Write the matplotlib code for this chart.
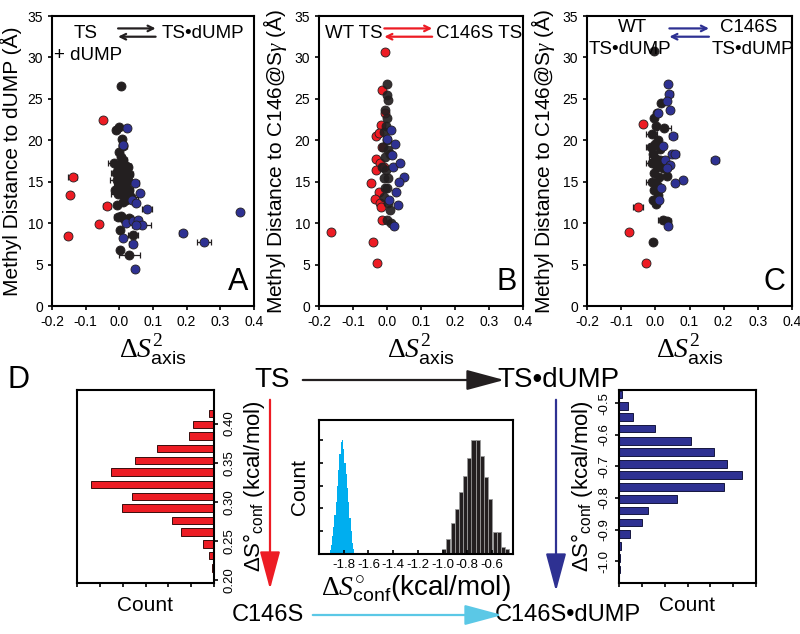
import matplotlib
matplotlib.use('Agg')
import matplotlib.pyplot as plt

plt.rcParams['font.family'] = ['Liberation Sans', 'DejaVu Sans']
plt.rcParams['mathtext.fontset'] = 'custom'
plt.rcParams['mathtext.rm'] = 'Liberation Serif'
plt.rcParams['mathtext.it'] = 'Liberation Serif:italic'
plt.rcParams['mathtext.sf'] = 'Liberation Sans'

RED = '#ed1c24'
BLUE = '#2e3192'
BLACK = '#231f20'
CYAN = '#00aeef'

# ---------------- panel A: TS + dUMP <-> TS*dUMP ----------------
a_red_x = [-0.049, -0.139, -0.146, -0.037, -0.060, -0.153]
a_red_y = [22.5, 15.6, 13.4, 12.1, 9.9, 8.5]
a_red_err = [0.0, 0.012, 0.0, 0.012, 0.004, 0.008]

a_blk_x = [0.005, -0.010, 0.000, 0.008, 0.010, -0.002, 0.005, 0.012, -0.015, 0.000,
           0.020, -0.005, 0.015, 0.025, -0.010, 0.005, 0.030, 0.010, -0.008, 0.015,
           0.025, 0.000, 0.020, -0.012, 0.010, 0.030, -0.005, 0.015, -0.007, 0.010,
           -0.005, 0.005, 0.015, 0.030, 0.003, 0.040, 0.003, 0.030, 0.020, 0.035, 0.012]
a_blk_y = [26.5, 21.2, 21.6, 20.2, 19.3, 18.6, 18.0, 17.6, 17.2, 17.0,
           16.9, 16.5, 16.3, 16.8, 16.0, 15.8, 15.9, 15.5, 15.2, 15.0,
           15.2, 14.6, 14.5, 14.0, 13.9, 14.0, 13.5, 13.3, 12.2, 12.6,
           10.8, 10.9, 10.5, 10.6, 9.2, 8.6, 6.8, 6.2, 12.8, 13.2, 15.2]
a_blk_err = [0.0, 0.008, 0.0, 0.005, 0.012, 0.0, 0.0, 0.01, 0.02, 0.0,
             0.015, 0.0, 0.01, 0.01, 0.015, 0.0, 0.01, 0.0, 0.02, 0.0,
             0.01, 0.015, 0.0, 0.0, 0.01, 0.01, 0.02, 0.0, 0.0, 0.0,
             0.01, 0.0, 0.0, 0.01, 0.0, 0.015, 0.0, 0.03, 0.0, 0.02, 0.0]

a_blue_x = [0.022, 0.010, 0.048, 0.060, 0.037, 0.050, 0.083, 0.358, 0.020,
            0.040, 0.054, 0.067, 0.050, 0.188, 0.252, 0.010, 0.040, 0.048]
a_blue_y = [21.5, 19.4, 14.9, 13.6, 12.8, 12.4, 11.7, 11.3, 10.0,
            10.2, 10.4, 9.8, 9.8, 8.8, 7.7, 8.2, 7.5, 4.5]
a_blue_err = [0.0, 0.01, 0.01, 0.0, 0.0, 0.0, 0.015, 0.0, 0.0,
              0.02, 0.01, 0.028, 0.0, 0.01, 0.02, 0.0, 0.01, 0.0]

# ---------------- panel B: WT TS <-> C146S TS ----------------
b_red_x = [-0.005, -0.014, -0.007, -0.019, -0.031, -0.024, -0.014, -0.033, -0.022, -0.031,
           -0.046, -0.024, -0.036, -0.022, -0.017, -0.014, -0.164, -0.041, -0.028, -0.010]
b_red_y = [30.7, 26.1, 23.3, 21.9, 20.5, 20.9, 19.2, 17.8, 17.2, 16.4,
           14.9, 13.7, 12.9, 12.4, 11.9, 10.4, 8.9, 7.7, 5.2, 16.8]

b_blk_x = [0.000, 0.000, 0.003, -0.007, 0.000, -0.004, -0.010, 0.001, -0.012, 0.003,
           -0.007, 0.010, -0.014, -0.002, -0.010, 0.003, -0.007, 0.001, -0.010, 0.003,
           0.008, 0.000, 0.012]
b_blk_y = [26.8, 25.5, 24.9, 23.7, 22.7, 21.7, 21.0, 20.0, 19.2, 18.8,
           18.0, 18.4, 16.8, 16.4, 15.4, 15.4, 14.2, 14.2, 13.2, 12.4,
           11.6, 10.4, 10.0]

b_blue_x = [0.013, 0.023, 0.001, 0.018, 0.039, 0.050, 0.035, 0.025, 0.032, 0.006, 0.021, 0.016]
b_blue_y = [21.3, 19.6, 20.1, 16.8, 17.2, 15.6, 15.0, 13.8, 12.2, 12.8, 9.7, 18.2]

# ---------------- panel C: WT TS*dUMP <-> C146S TS*dUMP ----------------
c_red_x = [-0.036, -0.050, -0.078, -0.026]
c_red_y = [22.0, 12.0, 8.9, 5.2]
c_red_err = [0.0, 0.015, 0.0, 0.0]

c_blk_x = [-0.003, -0.006, 0.023, 0.033, 0.018, 0.004, -0.004, 0.002, 0.025, -0.011,
           0.008, -0.001, -0.014, 0.013, -0.006, 0.002, 0.015, -0.011, 0.004, 0.023,
           -0.004, 0.011, 0.033, -0.011, 0.004, -0.004, 0.008, -0.008, 0.008, 0.002]
c_blk_y = [30.8, 7.7, 10.4, 10.2, 24.5, 23.3, 22.7, 21.7, 21.5, 20.8,
           20.0, 19.6, 19.2, 19.0, 18.4, 17.8, 17.6, 17.2, 16.8, 16.6,
           16.0, 15.6, 15.7, 15.0, 14.6, 14.0, 13.4, 12.8, 12.8, 12.3]
c_blk_err = [0.0, 0.0, 0.015, 0.012, 0.0, 0.0, 0.0, 0.0, 0.02, 0.015,
             0.0, 0.0, 0.012, 0.0, 0.01, 0.02, 0.0, 0.015, 0.0, 0.0,
             0.0, 0.0, 0.0, 0.015, 0.0, 0.01, 0.0, 0.0, 0.0, 0.0]

c_blue_x = [0.038, 0.041, 0.033, 0.043, 0.008, 0.052, 0.048, 0.059, 0.028, 0.043,
            0.033, 0.175, 0.080, 0.057, 0.018, 0.011, 0.038, 0.021]
c_blue_y = [26.8, 25.6, 24.7, 23.7, 23.3, 20.5, 18.4, 18.4, 17.6, 17.0,
            16.6, 17.6, 15.2, 14.9, 14.2, 12.8, 9.7, 19.3]
c_blue_err = [0.0, 0.01, 0.0, 0.008, 0.0, 0.012, 0.0, 0.01, 0.0, 0.01,
              0.0, 0.012, 0.0, 0.0, 0.0, 0.0, 0.008, 0.0]

# ---------------- panel D histograms ----------------
red_bins = [0.413, 0.399, 0.384, 0.368, 0.353, 0.338, 0.322, 0.307, 0.292, 0.276, 0.261, 0.246, 0.231, 0.215]
red_counts = [22, 94, 108, 249, 346, 450, 540, 360, 405, 183, 144, 48, 24, 9]

blue_bins = [-0.472, -0.508, -0.544, -0.580, -0.619, -0.655, -0.692, -0.728, -0.766, -0.803,
             -0.840, -0.877, -0.914, -0.951, -0.989, -1.026]
blue_counts = [15, 41, 63, 156, 316, 417, 474, 540, 462, 252, 126, 102, 50, 10, 4, 3]

cyan_bins = [-1.92, -1.91, -1.90, -1.89, -1.88, -1.87, -1.86, -1.85, -1.84, -1.83, -1.82,
             -1.81, -1.80, -1.79, -1.78, -1.77, -1.76, -1.75, -1.74, -1.73, -1.72, -1.71]
cyan_counts = [3, 8, 20, 40, 60, 85, 115, 150, 185, 220, 245, 250, 230, 200, 175, 145,
               115, 80, 50, 25, 10, 3]

dark_bins = [-0.986, -0.953, -0.918, -0.885, -0.853, -0.818, -0.782, -0.750,
             -0.714, -0.682, -0.647, -0.614, -0.579, -0.546, -0.511, -0.479]
dark_counts = [11, 32, 68, 98, 135, 172, 210, 250, 250, 215, 170, 120, 48, 48, 15, 10]


def box(l, t, r, b):
    # pixel box (800x634 canvas) -> figure fraction
    return [l / 800, 1 - b / 634, (r - l) / 800, (b - t) / 634]


def points(ax, x, y, err, color, z, alpha=1.0):
    if err is not None:
        ax.errorbar(x, y, xerr=err, fmt='none', ecolor=BLACK, elinewidth=0.9,
                    capsize=2, capthick=0.9, zorder=z)
    ax.scatter(x, y, s=42, c=color, edgecolors=BLACK, linewidths=0.6,
               zorder=z + 0.5, alpha=alpha)


def setup_panel(ax, ylabel, letter):
    ax.set_xlim(-0.2, 0.4)
    ax.set_ylim(0, 35)
    ax.set_xticks([-0.2, -0.1, 0.0, 0.1, 0.2, 0.3, 0.4])
    ax.set_xticklabels(['-0.2', '-0.1', '0.0', '0.1', '0.2', '0.3', '0.4'])
    ax.set_yticks(range(0, 36, 5))
    ax.tick_params(labelsize=10, width=1.2, length=3, direction='out')
    for s in ax.spines.values():
        s.set_linewidth(1.5)
    ax.set_ylabel(ylabel, fontsize=15, labelpad=4)
    ax.set_xlabel(r'$\Delta S^{2}_{\mathsf{axis}}$', fontsize=20, labelpad=2)
    ax.text(0.97, 0.03, letter, transform=ax.transAxes, ha='right', va='bottom', fontsize=22)


def double_arrow(ax, x0, x1, y, color):
    ax.annotate('', xy=(x1, y + 0.5), xytext=(x0, y + 0.5),
                arrowprops=dict(arrowstyle='->', color=color, lw=1.6))
    ax.annotate('', xy=(x0, y - 0.5), xytext=(x1, y - 0.5),
                arrowprops=dict(arrowstyle='->', color=color, lw=1.6))


fig = plt.figure(figsize=(8, 6.34), dpi=100)

# overlay for the reaction scheme in panel D
ov = fig.add_axes([0, 0, 1, 1])
ov.set_xlim(0, 800)
ov.set_ylim(634, 0)
ov.axis('off')

# ---- A ----
axA = fig.add_axes(box(52, 16, 254, 306))
points(axA, a_red_x, a_red_y, a_red_err, RED, 3)
points(axA, a_blk_x, a_blk_y, a_blk_err, BLACK, 2)
points(axA, a_blue_x, a_blue_y, a_blue_err, BLUE, 4)
setup_panel(axA, 'Methyl Distance to dUMP (Å)', 'A')
axA.text(-0.1, 32.9, 'TS', ha='center', va='center', fontsize=13.5)
axA.text(-0.094, 30.2, '+ dUMP', ha='center', va='center', fontsize=13.5)
axA.text(0.247, 32.9, 'TS•dUMP', ha='center', va='center', fontsize=13.5)
double_arrow(axA, -0.012, 0.116, 33.0, BLACK)

# ---- B ----
axB = fig.add_axes(box(319, 16, 523, 306))
points(axB, b_red_x, b_red_y, None, RED, 2)
points(axB, b_blk_x, b_blk_y, None, BLACK, 3, alpha=0.92)
points(axB, b_blue_x, b_blue_y, None, BLUE, 4)
setup_panel(axB, 'Methyl Distance to C146@S$\\gamma$ (Å)', 'B')
axB.text(-0.098, 32.9, 'WT TS', ha='center', va='center', fontsize=13.5)
axB.text(0.27, 32.9, 'C146S TS', ha='center', va='center', fontsize=13.5)
double_arrow(axB, -0.016, 0.141, 33.0, RED)

# ---- C ----
axC = fig.add_axes(box(587, 16, 792, 306))
points(axC, c_red_x, c_red_y, c_red_err, RED, 3)
points(axC, c_blk_x, c_blk_y, c_blk_err, BLACK, 2)
points(axC, c_blue_x, c_blue_y, c_blue_err, BLUE, 4)
setup_panel(axC, 'Methyl Distance to C146@S$\\gamma$ (Å)', 'C')
axC.text(-0.068, 33.6, 'WT', ha='center', va='center', fontsize=13.5)
axC.text(-0.075, 31.0, 'TS•dUMP', ha='center', va='center', fontsize=13.5)
axC.text(0.273, 33.6, 'C146S', ha='center', va='center', fontsize=13.5)
axC.text(0.285, 31.0, 'TS•dUMP', ha='center', va='center', fontsize=13.5)
double_arrow(axC, 0.033, 0.165, 33.0, BLUE)

# ---- D: left (red) histogram ----
conf_lab = 'ΔS°$_{\\mathsf{conf}}$ (kcal/mol)'
axL = fig.add_axes(box(77, 390, 214, 583))
axL.barh(red_bins, red_counts, height=0.0095, color=RED, edgecolor='#3a0c0c', linewidth=0.7)
axL.set_xlim(600, 0)
axL.set_ylim(0.196, 0.443)
axL.set_xticks(range(0, 601, 100))
axL.set_xticklabels([])
axL.set_yticks([0.20, 0.25, 0.30, 0.35, 0.40])
axL.set_yticklabels(['0.20', '0.25', '0.30', '0.35', '0.40'], rotation=90, va='center')
axL.yaxis.tick_right()
axL.yaxis.set_label_position('right')
axL.tick_params(labelsize=9.5, width=1.2, length=3, direction='out')
axL.set_xlabel('Count', fontsize=15, labelpad=3)
axL.set_ylabel(conf_lab, fontsize=16, labelpad=4)
for s in axL.spines.values():
    s.set_linewidth(1.5)

# ---- D: right (blue) histogram ----
axR = fig.add_axes(box(619, 390, 756, 583))
axR.barh(blue_bins, blue_counts, height=0.024, color=BLUE, edgecolor='#15173f', linewidth=0.7)
axR.set_xlim(0, 600)
axR.set_ylim(-1.069, -0.458)
axR.set_xticks(range(0, 601, 100))
axR.set_xticklabels([])
axR.set_yticks([-1.0, -0.9, -0.8, -0.7, -0.6, -0.5])
axR.set_yticklabels(['-1.0', '-0.9', '-0.8', '-0.7', '-0.6', '-0.5'], rotation=90, va='center')
axR.tick_params(labelsize=9.5, width=1.2, length=3, direction='out')
axR.set_xlabel('Count', fontsize=15, labelpad=3)
axR.set_ylabel(conf_lab, fontsize=16, labelpad=2)
for s in axR.spines.values():
    s.set_linewidth(1.5)

# ---- D: middle histogram ----
axM = fig.add_axes(box(319, 420, 513, 554))
axM.bar(cyan_bins, cyan_counts, width=0.01, color=CYAN, linewidth=0)
axM.bar(dark_bins, dark_counts, width=0.0335, color=BLACK, edgecolor='#9a9a9a', linewidth=0.6)
axM.set_xlim(-2.0, -0.43)
axM.set_ylim(0, 294)
axM.set_xticks([-1.8, -1.6, -1.4, -1.2, -1.0, -0.8, -0.6])
axM.set_xticklabels(['-1.8', '-1.6', '-1.4', '-1.2', '-1.0', '-0.8', '-0.6'])
axM.set_yticks(range(0, 251, 50))
axM.set_yticklabels([])
axM.tick_params(labelsize=9.5, width=1.2, length=3, direction='in')
axM.set_ylabel('Count', fontsize=15, labelpad=4)
axM.set_xlabel(r'$\Delta S^{\circ}_{\mathsf{conf}}$(kcal/mol)', fontsize=20, labelpad=2)
for s in axM.spines.values():
    s.set_linewidth(1.5)

# ---- D: reaction scheme ----
ov.text(7, 380, 'D', ha='left', va='center', fontsize=22)
ov.text(272, 380, 'TS', ha='center', va='center', fontsize=20)
ov.text(558, 380, 'TS•dUMP', ha='center', va='center', fontsize=20)
ov.text(268, 615, 'C146S', ha='center', va='center', fontsize=17)
ov.text(568, 615, 'C146S•dUMP', ha='center', va='center', fontsize=17)
head = '-|>,head_length=1.3,head_width=0.35'
ov.annotate('', xy=(507, 380), xytext=(300, 380),
            arrowprops=dict(arrowstyle=head, color=BLACK, lw=1.6, mutation_scale=18))
ov.annotate('', xy=(270, 592), xytext=(270, 397),
            arrowprops=dict(arrowstyle=head, color=RED, lw=1.6, mutation_scale=18))
ov.annotate('', xy=(505, 615), xytext=(310, 615),
            arrowprops=dict(arrowstyle=head, color='#5bc8e6', lw=1.6, mutation_scale=18))
ov.annotate('', xy=(556, 594), xytext=(556, 397),
            arrowprops=dict(arrowstyle=head, color=BLUE, lw=1.6, mutation_scale=18))

fig.savefig('out.png', dpi=100)
